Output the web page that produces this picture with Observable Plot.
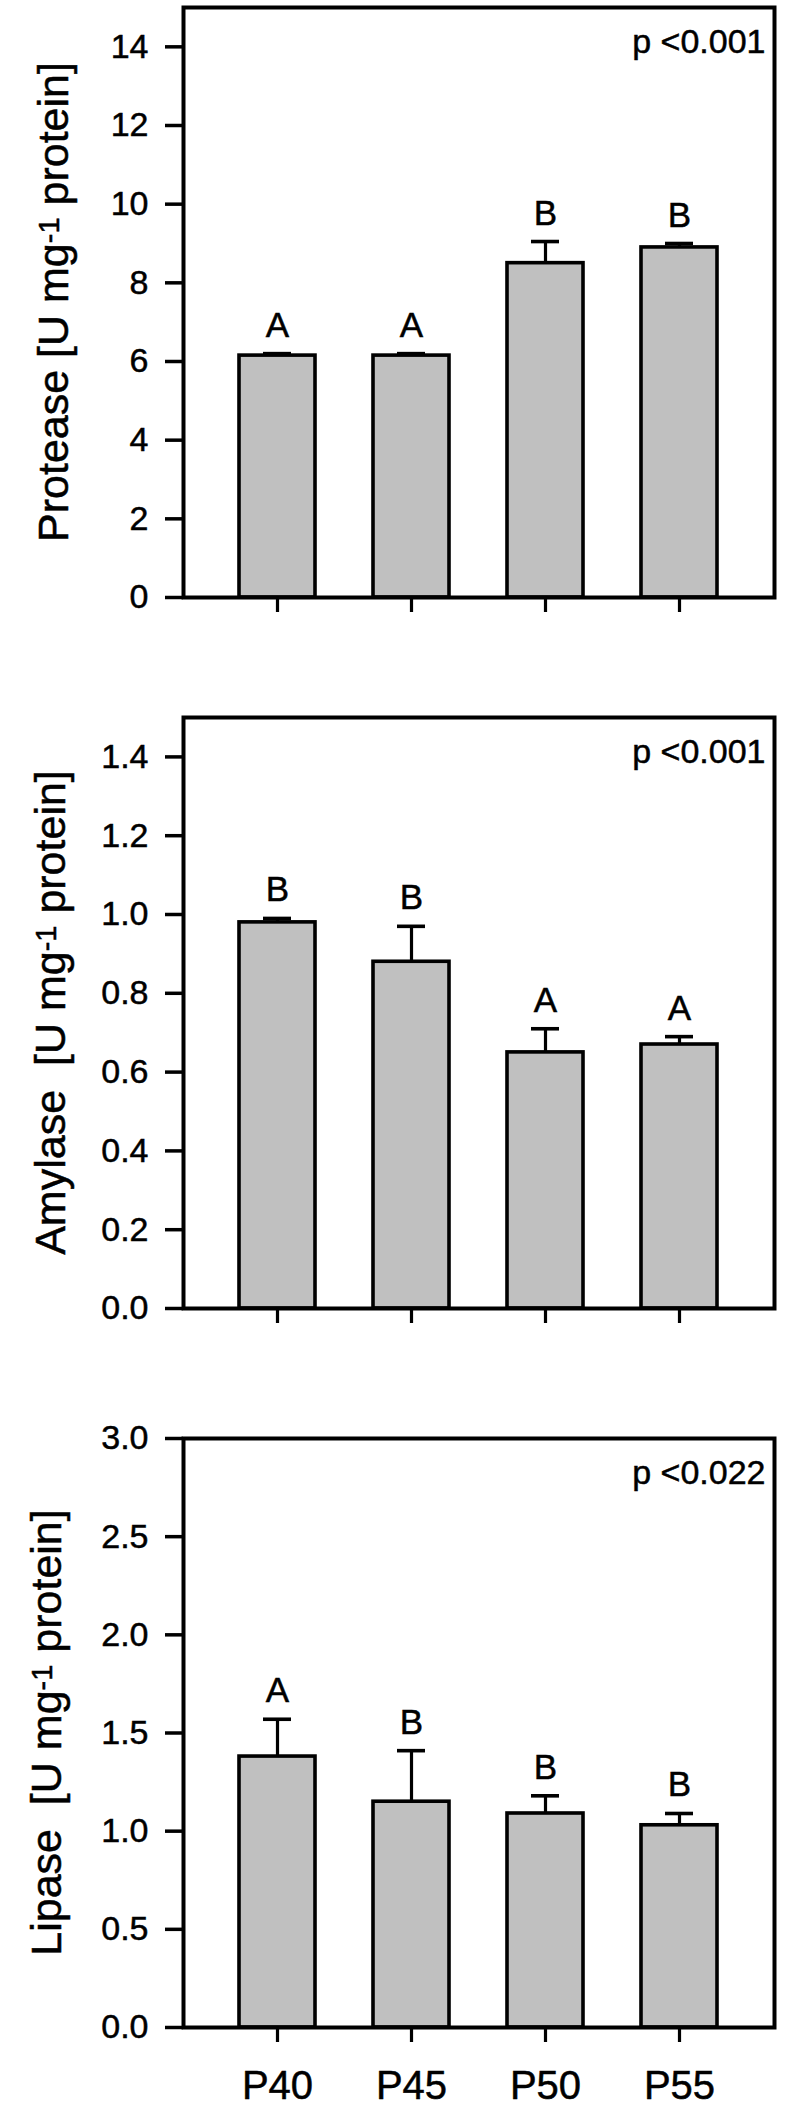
<!DOCTYPE html>
<html><head><meta charset="utf-8">
<script src="https://cdn.jsdelivr.net/npm/d3@7"></script>
<script src="https://cdn.jsdelivr.net/npm/@observablehq/plot@0.6"></script>
<style>
body{margin:0;background:#fff;}
#chart{width:789px;}
svg{display:block;}
svg text{stroke:#000;stroke-width:0.5px;}
</style></head><body><div id="chart"></div>
<script>
const groups = ["P40", "P45", "P50", "P55"];

const proteaseMean = [6.15, 6.15, 8.50, 8.90];
const proteaseErr = [0.05, 0.05, 0.55, 0.10];
const proteaseLetters = ["A", "A", "B", "B"];
const proteaseTicks = [0, 2, 4, 6, 8, 10, 12, 14];

const amylaseMean = [0.98, 0.88, 0.65, 0.67];
const amylaseErr = [0.01, 0.09, 0.06, 0.02];
const amylaseLetters = ["B", "B", "A", "A"];
const amylaseTicks = [0, 0.2, 0.4, 0.6, 0.8, 1.0, 1.2, 1.4];

const lipaseMean = [1.38, 1.15, 1.09, 1.03];
const lipaseErr = [0.19, 0.26, 0.09, 0.06];
const lipaseLetters = ["A", "B", "B", "B"];
const lipaseTicks = [0, 0.5, 1.0, 1.5, 2.0, 2.5, 3.0];

const pValues = ["p <0.001", "p <0.001", "p <0.022"];
const titles = [["Protease [U mg", " protein]"], ["Amylase  [U mg", " protein]"], ["Lipase  [U mg", " protein]"]];
const superscript = "-1";

const FONT = "'Liberation Sans', Arial, Helvetica, sans-serif";

function panel(cfg) {
  const rows = groups.map((g, i) => ({group: g, value: cfg.mean[i], err: cfg.err[i], top: cfg.mean[i] + cfg.err[i], letter: cfg.letters[i]}));
  const svg = Plot.plot({
    width: 789,
    height: cfg.height,
    marginTop: cfg.mt,
    marginBottom: cfg.mb,
    marginLeft: 183,
    marginRight: 15,
    style: {fontFamily: FONT, fontSize: "34px", color: "black", background: "white", overflow: "visible"},
    x: {type: "band", domain: groups, paddingInner: 0.431, paddingOuter: 0.414},
    y: {domain: cfg.domain},
    marks: [
      Plot.barY(rows, {x: "group", y: "value", fill: "#c0c0c0", stroke: "black", strokeWidth: 3.6}),
      Plot.ruleX(rows, {x: "group", y1: "value", y2: "top", stroke: "black", strokeWidth: 3.2}),
      Plot.tickY(rows, {x: "group", y: "top", stroke: "black", strokeWidth: 3.6, insetLeft: 24, insetRight: 24}),
      Plot.text(rows, {x: "group", y: "top", text: "letter", dy: -17, lineAnchor: "bottom", fontSize: 35, fill: "black"}),
      Plot.text([cfg.p], {frameAnchor: "top-right", text: d => d, dx: -9, dy: 21, fontSize: 34, fill: "black"}),
      Plot.frame({stroke: "black", strokeWidth: 4}),
      Plot.axisY({ticks: cfg.ticks, tickFormat: cfg.fmt, tickSize: 18, tickPadding: 17, strokeWidth: 3.5, fontSize: 34, label: null}),
      Plot.axisX({tickSize: 15, tickPadding: 28, strokeWidth: 3.2, fontSize: 40, label: null, tickFormat: cfg.xlabels ? (d => d) : (() => "")})
    ]
  });
  const cy = (cfg.mt + cfg.height - cfg.mb) / 2;
  const t = d3.select(svg).append("text")
    .attr("transform", `translate(${cfg.titleX},${cy}) rotate(-90)`)
    .attr("text-anchor", "middle")
    .attr("fill", "black")
    .style("font-family", FONT)
    .style("font-size", "43px")
    .style("white-space", "pre");
  t.append("tspan").text(cfg.title[0]);
  t.append("tspan").attr("dy", -9).style("font-size", "29px").text(superscript);
  t.append("tspan").attr("dy", 9).text(cfg.title[1]);
  document.getElementById("chart").appendChild(svg);
}

panel({mean: proteaseMean, err: proteaseErr, letters: proteaseLetters, ticks: proteaseTicks, fmt: d => String(d), domain: [0, 15], p: pValues[0], title: titles[0], height: 700, mt: 7, mb: 103, titleX: 68, xlabels: false});
panel({mean: amylaseMean, err: amylaseErr, letters: amylaseLetters, ticks: amylaseTicks, fmt: d3.format(".1f"), domain: [0, 1.5], p: pValues[1], title: titles[1], height: 700, mt: 17, mb: 92, titleX: 65, xlabels: false});
panel({mean: lipaseMean, err: lipaseErr, letters: lipaseLetters, ticks: lipaseTicks, fmt: d3.format(".1f"), domain: [0, 3], p: pValues[2], title: titles[2], height: 710, mt: 38, mb: 83, titleX: 61, xlabels: true});
</script>
</body></html>
